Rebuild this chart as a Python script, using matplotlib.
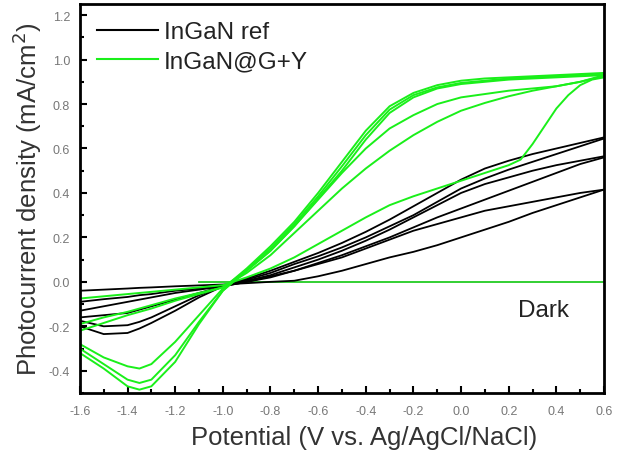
import matplotlib
matplotlib.use("Agg")
import matplotlib.pyplot as plt
from matplotlib.lines import Line2D
from matplotlib.ticker import MultipleLocator

plt.rcParams['font.family'] = ['Liberation Sans', 'DejaVu Sans']

# potential grid (V vs. Ag/AgCl/NaCl) shared by most scans
v_grid = [-1.6, -1.5, -1.4, -1.35, -1.3, -1.2, -1.1, -1.0, -0.9, -0.8, -0.7, -0.6,
          -0.5, -0.4, -0.3, -0.2, -0.1, 0.0, 0.1, 0.2, 0.3, 0.4, 0.5, 0.6]

# InGaN ref, photocurrent density (mA/cm2), three cycles, two branches each
ref_a_up = [-0.20, -0.235, -0.23, -0.21, -0.185, -0.13, -0.07, -0.02, 0.015, 0.05, 0.09, 0.13,
            0.175, 0.225, 0.28, 0.34, 0.40, 0.46, 0.51, 0.545, 0.575, 0.60, 0.625, 0.65]
ref_a_lo = [-0.13, -0.11, -0.09, -0.08, -0.07, -0.05, -0.035, -0.02, 0.01, 0.04, 0.08, 0.115,
            0.155, 0.20, 0.25, 0.30, 0.36, 0.42, 0.465, 0.505, 0.54, 0.575, 0.61, 0.645]
ref_b_up = [-0.175, -0.20, -0.195, -0.18, -0.16, -0.11, -0.06, -0.02, 0.005, 0.03, 0.065, 0.10,
            0.14, 0.185, 0.235, 0.29, 0.345, 0.40, 0.44, 0.47, 0.50, 0.525, 0.545, 0.565]
ref_b_lo = [-0.09, -0.078, -0.068, -0.06, -0.055, -0.04, -0.03, -0.02, 0.0, 0.02, 0.05, 0.085,
            0.12, 0.16, 0.20, 0.245, 0.29, 0.33, 0.37, 0.41, 0.45, 0.49, 0.53, 0.56]
ref_c_up = [-0.16, -0.15, -0.14, -0.125, -0.11, -0.08, -0.05, -0.02, 0.0, 0.025, 0.05, 0.08,
            0.11, 0.15, 0.19, 0.23, 0.26, 0.29, 0.32, 0.34, 0.36, 0.38, 0.40, 0.415]
ref_c_lo = [-0.04, -0.035, -0.03, -0.027, -0.025, -0.02, -0.016, -0.012, -0.006, 0.0, 0.005, 0.025,
            0.05, 0.08, 0.11, 0.135, 0.165, 0.20, 0.235, 0.27, 0.31, 0.345, 0.38, 0.415]

# InGaN@G+Y, cathodic sweeps with the reduction peak near -1.35 V
gy_rev1 = [-0.28, -0.34, -0.38, -0.39, -0.37, -0.27, -0.15, -0.03, 0.06, 0.16, 0.27, 0.40,
           0.54, 0.68, 0.79, 0.85, 0.885, 0.905, 0.915, 0.92, 0.925, 0.93, 0.935, 0.94]
gy_rev2 = [-0.30, -0.37, -0.44, -0.455, -0.44, -0.33, -0.18, -0.04, 0.055, 0.15, 0.26, 0.385,
           0.52, 0.66, 0.775, 0.84, 0.875, 0.895, 0.905, 0.915, 0.92, 0.925, 0.93, 0.935]
gy_rev3 = [-0.32, -0.39, -0.47, -0.485, -0.47, -0.36, -0.19, -0.04, 0.05, 0.14, 0.25, 0.375,
           0.50, 0.64, 0.76, 0.83, 0.87, 0.89, 0.90, 0.91, 0.915, 0.92, 0.925, 0.93]
# anodic sweeps, cycles 2 and 3
gy_fwd2 = [-0.19, -0.16, -0.135, -0.12, -0.105, -0.075, -0.05, -0.025, 0.05, 0.14, 0.25, 0.37,
           0.49, 0.60, 0.69, 0.75, 0.80, 0.83, 0.845, 0.86, 0.87, 0.88, 0.90, 0.93]
gy_fwd3 = [-0.22, -0.185, -0.15, -0.135, -0.12, -0.085, -0.055, -0.025, 0.04, 0.12, 0.22, 0.32,
           0.42, 0.51, 0.59, 0.66, 0.72, 0.77, 0.805, 0.835, 0.86, 0.88, 0.90, 0.925]
# anodic sweep, cycle 1 (late turn-on near 0.25 V)
v_gy_fwd1 = [-1.6, -1.4, -1.2, -1.0, -0.9, -0.8, -0.7, -0.6, -0.5, -0.4, -0.3, -0.2, -0.1,
             0.0, 0.1, 0.2, 0.25, 0.3, 0.35, 0.4, 0.45, 0.5, 0.55, 0.6]
gy_fwd1 = [-0.075, -0.055, -0.035, -0.015, 0.02, 0.06, 0.11, 0.17, 0.23, 0.29, 0.345, 0.385, 0.42,
           0.455, 0.49, 0.525, 0.55, 0.62, 0.70, 0.78, 0.84, 0.885, 0.91, 0.92]

# dark current
v_dark = [-1.1, 0.6]
j_dark = [0.0, 0.0]

ref_scans = [ref_a_up, ref_a_lo, ref_b_up, ref_b_lo, ref_c_up, ref_c_lo]
gy_scans = [gy_rev1, gy_rev2, gy_rev3, gy_fwd2, gy_fwd3]

black = "#000000"
green = "#1aef1a"

fig = plt.figure(figsize=(6.24, 4.56), dpi=100)
ax = fig.add_axes([0.128, 0.136, 0.84, 0.853])

ax.plot(v_dark, j_dark, color="#22cc22", lw=1.3)
for j in ref_scans:
    ax.plot(v_grid, j, color=black, lw=1.3)
for j in gy_scans:
    ax.plot(v_grid, j, color=green, lw=1.4)
ax.plot(v_gy_fwd1, gy_fwd1, color=green, lw=1.4)

ax.text(0.24, -0.125, "Dark", fontsize=17.5, color="#222222", ha="left", va="center")

ax.set_xlim(-1.6, 0.6)
ax.set_ylim(-0.5, 1.25)
ax.xaxis.set_minor_locator(MultipleLocator(0.1))
ax.yaxis.set_minor_locator(MultipleLocator(0.1))
ax.set_xticks([-1.6, -1.4, -1.2, -1.0, -0.8, -0.6, -0.4, -0.2, 0.0, 0.2, 0.4, 0.6])
ax.set_xticklabels(["-1.6", "-1.4", "-1.2", "-1.0", "-0.8", "-0.6", "-0.4", "-0.2",
                    "0.0", "0.2", "0.4", "0.6"])
ax.set_yticks([-0.4, -0.2, 0.0, 0.2, 0.4, 0.6, 0.8, 1.0, 1.2])
ax.set_yticklabels(["-0.4", "-0.2", "0.0", "0.2", "0.4", "0.6", "0.8", "1.0", "1.2"])
ax.tick_params(which="both", direction="in", colors=black, labelcolor="#777777",
               labelsize=9, width=1.5)
ax.tick_params(which="major", length=5)
ax.tick_params(axis="x", which="major", pad=9)
ax.tick_params(axis="y", which="major", pad=7)
ax.tick_params(which="minor", length=3)
for s in ax.spines.values():
    s.set_linewidth(2)

ax.set_xlabel("Potential (V vs. Ag/AgCl/NaCl)", fontsize=18.5, color="#333333")
ax.set_ylabel("Photocurrent density (mA/cm$^2$)", fontsize=18.5, color="#333333")
ax.xaxis.set_label_coords(0.543, -0.083)
ax.yaxis.set_label_coords(-0.068, 0.5)

handles = [Line2D([], [], color=black, lw=1.5), Line2D([], [], color=green, lw=1.5)]
ax.legend(handles, ["InGaN ref", "InGaN@G+Y"], loc="upper left", frameon=False,
          fontsize=17.5, handlelength=2.5, handletextpad=0.25, labelspacing=0.3,
          borderaxespad=0.4, borderpad=0.3, labelcolor="#222222")

fig.savefig("out.png", dpi=100)
